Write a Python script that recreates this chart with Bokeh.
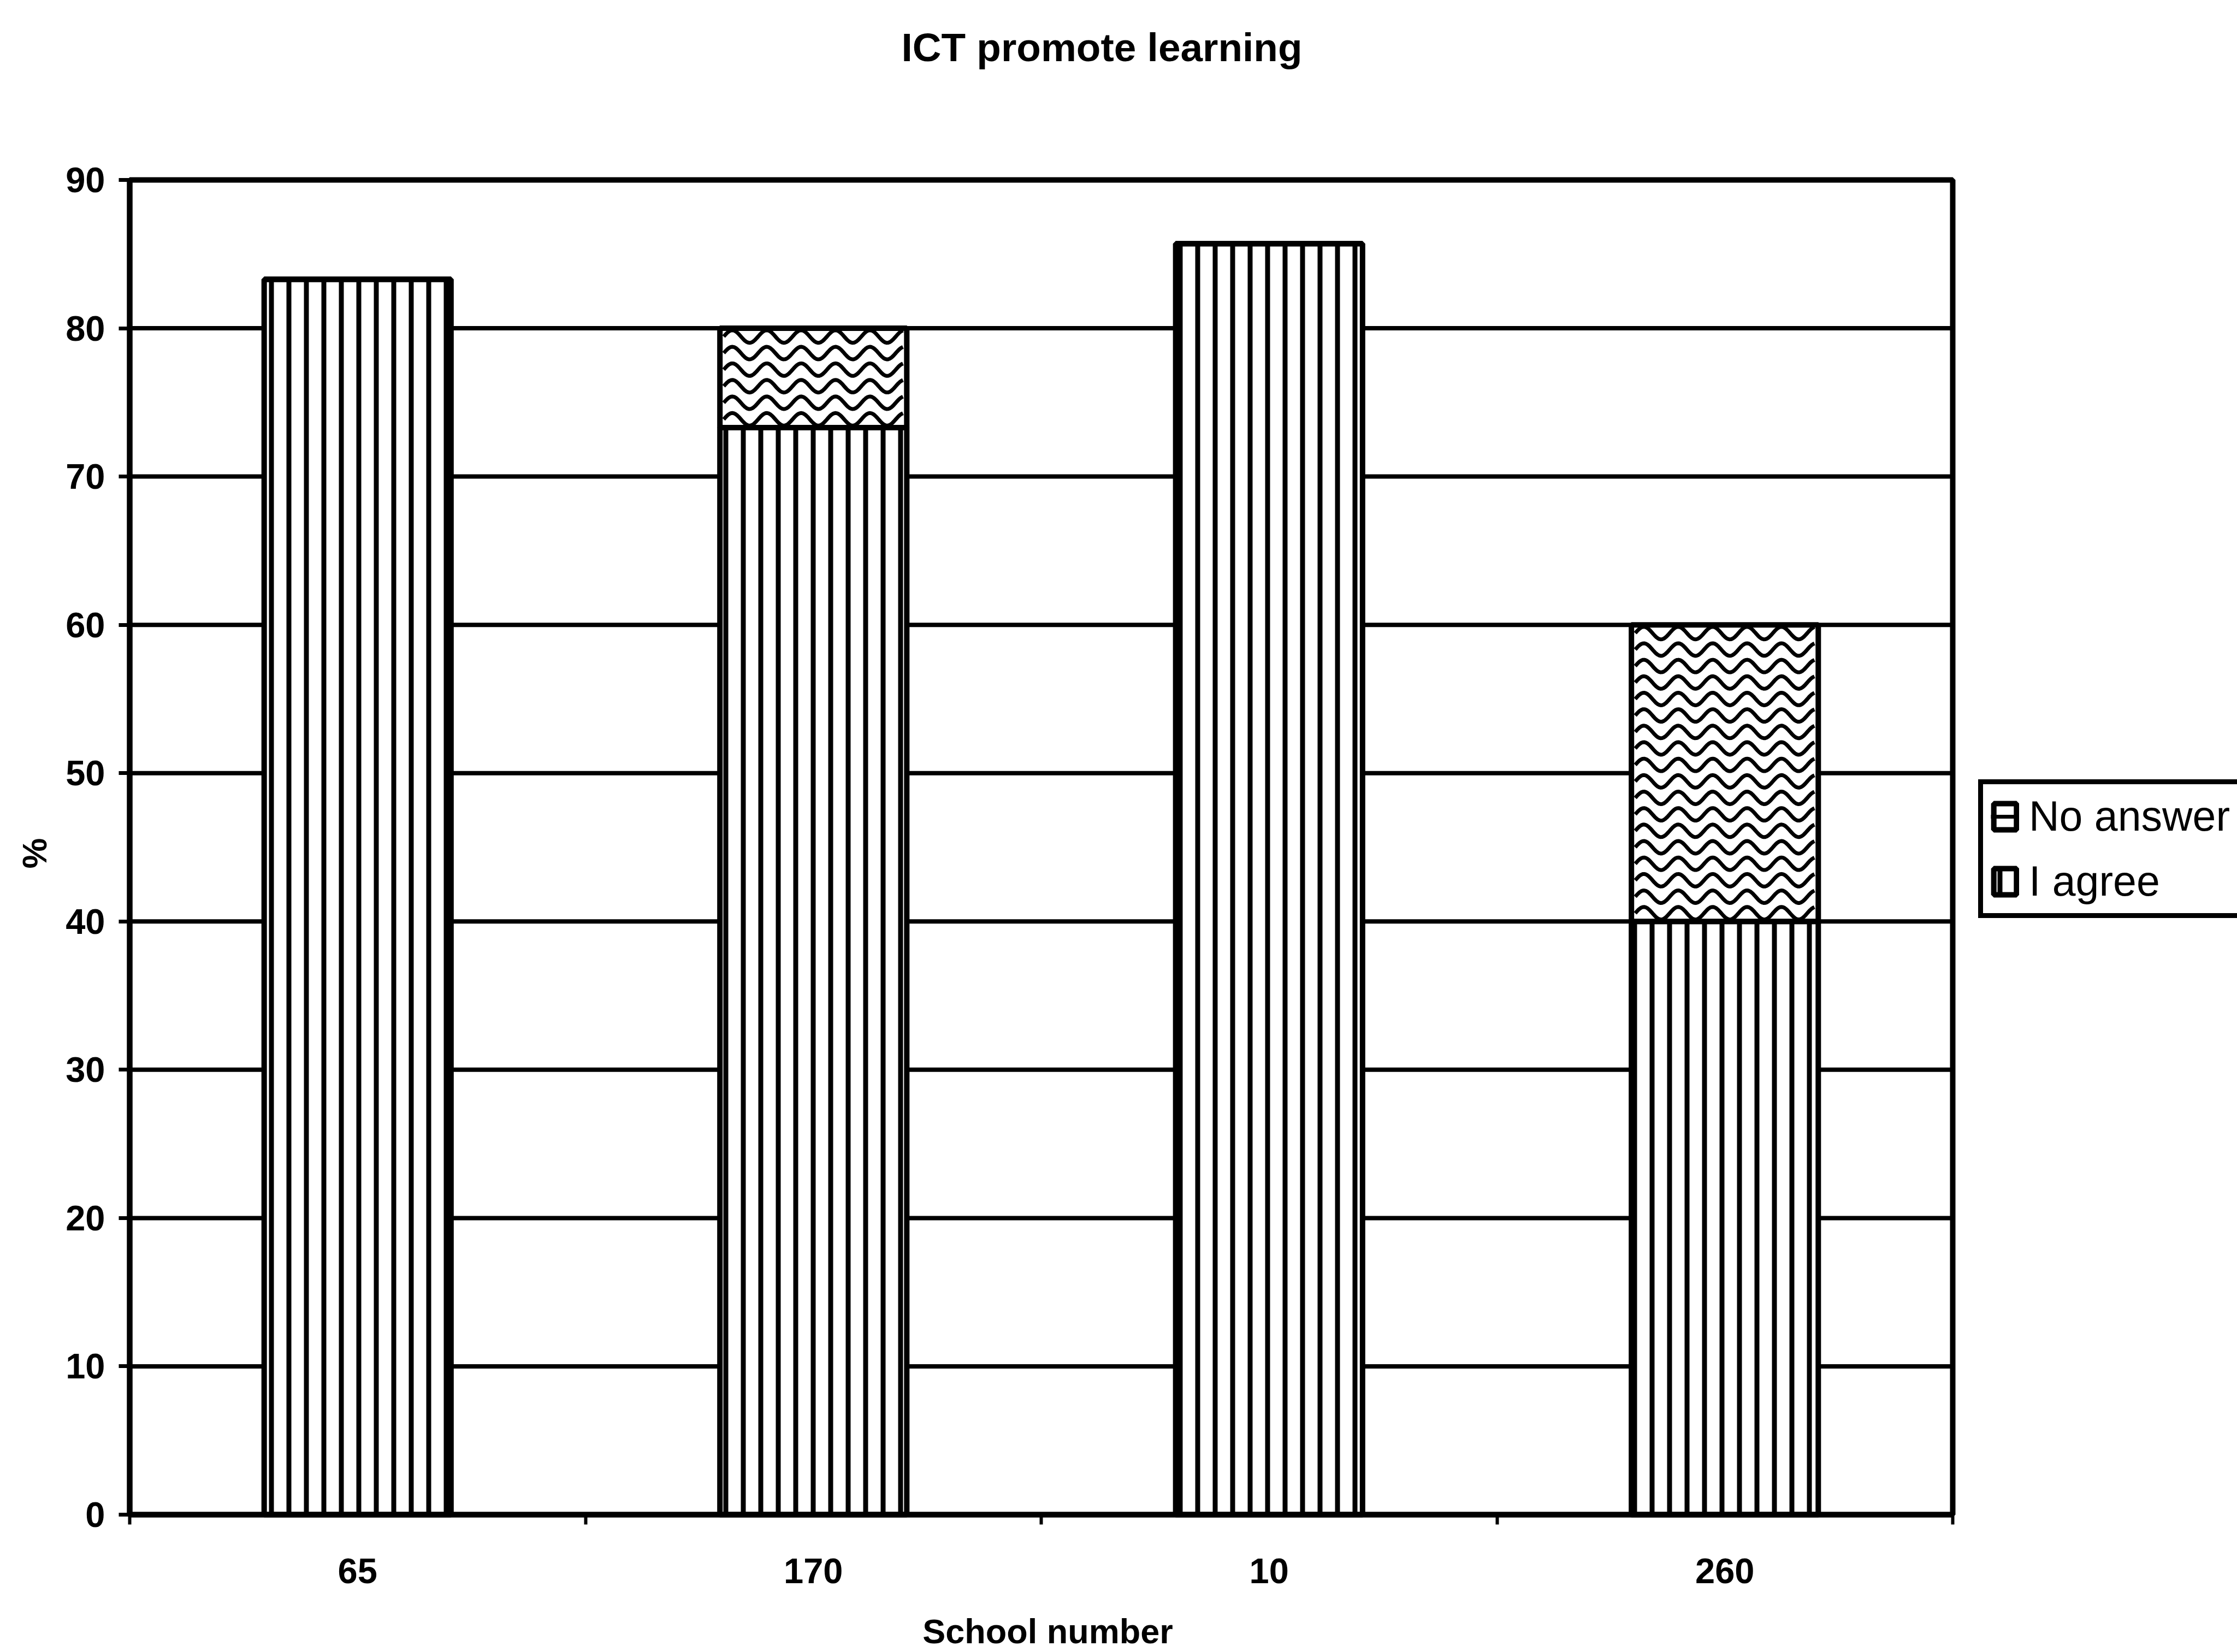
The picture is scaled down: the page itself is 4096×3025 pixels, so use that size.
import math

from bokeh.plotting import figure
from bokeh.models import (BoxAnnotation, ColumnDataSource, FixedTicker, Label,
                          Legend, LegendItem, Range1d)
from bokeh.embed import file_html
from bokeh.resources import INLINE

# --- data -------------------------------------------------------------
schools = ["65", "170", "10", "260"]          # school number (x categories)
agree = [83.3, 73.3, 85.7, 40.0]               # "I agree" share, %
no_answer = [0.0, 6.7, 0.0, 20.0]              # "No answer" share, %
y_ticks = [0, 10, 20, 30, 40, 50, 60, 70, 80, 90]
Y_MAX = 90

title_text = "ICT promote learning"
x_title = "School number"
y_title = "%"

# --- layout (canvas pixels) ------------------------------------------
S = 0.987
W, H = 4096, 3025
F_LEFT, F_RIGHT = round(240 * S), round(3622 * S)    # x = 0 and x = n
F_TOP, F_BOTTOM = round(333 * S), round(2810 * S)    # y = 90 and y = 0
FONT = "Liberation Sans"
n = len(schools)

# The drawing frame fills the whole page; the ranges are chosen so that the
# data box 0..n x 0..90 lands on the plot area, and the axes are pinned to it.
px_x = (F_RIGHT - F_LEFT) / n          # pixels per x unit
px_y = (F_BOTTOM - F_TOP) / Y_MAX      # pixels per y unit
x_start, x_end = -F_LEFT / px_x, n + (W - F_RIGHT) / px_x
y_start, y_end = -(H - F_BOTTOM) / px_y, Y_MAX + F_TOP / px_y


def sx(cx):
    """canvas x -> screen x (frame == page)"""
    return cx


def sy(cy):
    """canvas y (top-down) -> screen y (bottom-up)"""
    return H - cy


x_pos = [i + 0.5 for i in range(n)]
total = [a + b for a, b in zip(agree, no_answer)]
src = ColumnDataSource(dict(x=x_pos, agree=agree, no_answer=no_answer, total=total))

p = figure(
    width=W, height=H, title=None,
    x_range=Range1d(x_start, x_end), y_range=Range1d(y_start, y_end),
    output_backend="svg", toolbar_location=None, min_border=0,
    background_fill_color="white", border_fill_color="white",
)
p.outline_line_color = None
p.xgrid.visible = False
p.ygrid.visible = False

# horizontal grid lines across the plot box
p.segment(x0=0, x1=n, y0=y_ticks, y1=y_ticks, line_color="black", line_width=8)

# y axis, pinned at x = 0
ya = p.yaxis[0]
ya.fixed_location = 0
ya.bounds = (0, Y_MAX)
ya.ticker = FixedTicker(ticks=y_ticks)
ya.axis_line_width = 10
ya.major_tick_out = 20
ya.major_tick_in = 0
ya.major_tick_line_width = 7
ya.minor_tick_line_color = None
ya.major_label_standoff = 25
ya.major_label_text_font = FONT
ya.major_label_text_font_style = "bold"
ya.major_label_text_font_size = "65px"
ya.major_label_text_color = "black"

# x axis, pinned at y = 0: labels at category centres, ticks on boundaries
xa = p.xaxis[0]
xa.fixed_location = 0
xa.bounds = (0, n)
xa.ticker = FixedTicker(ticks=x_pos, minor_ticks=list(range(n + 1)))
xa.major_label_overrides = {x: s for x, s in zip(x_pos, schools)}
xa.axis_line_width = 10
xa.major_tick_line_color = None
xa.major_tick_out = 0
xa.major_tick_in = 0
xa.minor_tick_out = 18
xa.minor_tick_in = 0
xa.minor_tick_line_width = 6
xa.minor_tick_line_color = "black"
xa.major_label_standoff = 62
xa.major_label_text_font = FONT
xa.major_label_text_font_style = "bold"
xa.major_label_text_font_size = "65px"
xa.major_label_text_color = "black"

# stacked bars
BAR_W = 0.41
r_agree = p.vbar(
    x="x", bottom=0, top="agree", width=BAR_W, source=src,
    fill_color="white", line_color="black", line_width=10,
    hatch_pattern="vertical_line", hatch_color="black",
    hatch_weight=9, hatch_scale=32,
)
r_no = p.vbar(
    x="x", bottom="agree", top="total", width=BAR_W, source=src,
    fill_color="white", line_color="black", line_width=10,
)

# wavy shading inside the "No answer" segments
ROW = 31 / px_y          # spacing of the wave rows
AMP = 11.5 / px_y        # wave amplitude
PERIOD = 63 / px_x       # wave length
INSET = 7 / px_x
wave_xs, wave_ys = [], []
for xc, lo, hi in zip(x_pos, agree, total):
    if hi - lo <= 0:
        continue
    rows = max(1, round((hi - lo) / ROW))
    step = (hi - lo) / rows
    x0, x1 = xc - BAR_W / 2 + INSET, xc + BAR_W / 2 - INSET
    xs = [x0 + (x1 - x0) * k / 120 for k in range(121)]
    for r in range(rows):
        yc = lo + (r + 0.5) * step
        wave_xs.append(xs)
        wave_ys.append([yc + AMP * math.sin(2 * math.pi * (x - x0) / PERIOD) for x in xs])
r_wave = p.multi_line(xs=wave_xs, ys=wave_ys, line_color="black", line_width=7,
                      line_join="round")

# border of the plot box (top and right; left and bottom are the axes)
p.add_layout(BoxAnnotation(left=0, right=n, bottom=0, top=Y_MAX,
                           fill_alpha=0, line_color="black", line_alpha=1.0,
                           line_width=10))

# legend, running past the right edge of the page
legend = Legend(
    items=[LegendItem(label="No answer", renderers=[r_no, r_wave]),
           LegendItem(label="I agree", renderers=[r_agree])],
    location=(sx(round(3670 * S)), sy(round(1703 * S))),
    orientation="vertical",
    glyph_width=52, glyph_height=60,
    label_standoff=18, label_width=430,
    label_text_font=FONT, label_text_font_size="77px",
    label_text_color="black",
    padding=14, spacing=30, margin=0,
    border_line_color="black", border_line_alpha=1.0, border_line_width=9,
    background_fill_color="white", background_fill_alpha=1.0,
)
p.add_layout(legend, "center")

# chart title and axis titles
common = dict(x_units="screen", y_units="screen", text_align="center",
              text_baseline="middle", text_font=FONT, text_font_style="bold",
              text_color="black")
p.add_layout(Label(x=sx(round(2044 * S)), y=sy(round(87 * S)), text=title_text,
                   text_font_size="73px", **common))
p.add_layout(Label(x=sx(round(1943 * S)), y=sy(round(3025 * S)), text=x_title,
                   text_font_size="63px", **common))
p.add_layout(Label(x=sx(round(63 * S)), y=sy(round(1583 * S)), text=y_title,
                   angle=math.pi / 2, text_font_size="63px", **common))

open("out.html", "w").write(file_html(p, INLINE))
